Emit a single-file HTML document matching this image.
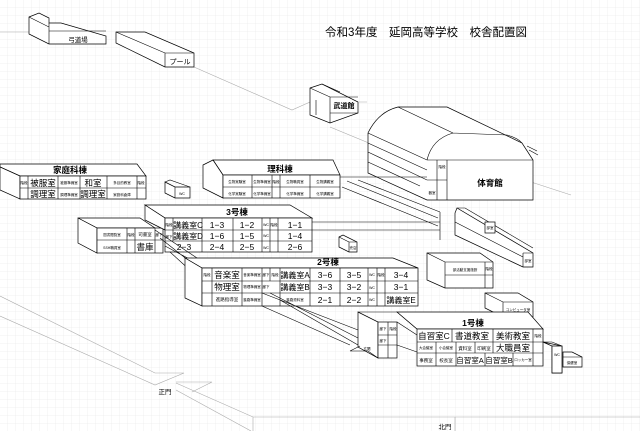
<!DOCTYPE html>
<html><head><meta charset="utf-8"><style>
html,body{margin:0;padding:0;background:#fff}
svg{display:block}
text{font-family:"Liberation Sans","Noto Sans CJK JP",sans-serif;fill:#000;text-anchor:middle}
.b{font-size:8.5px}
.m{font-size:5px}
.s{font-size:3.5px}
.t{font-size:8.5px;font-weight:bold}
.k{stroke:#000;stroke-width:0.7;fill:#fff}
.l{stroke:#000;stroke-width:0.6;fill:none}
.g{stroke:#aaa;stroke-width:0.6;fill:none}
</style></head><body>
<svg width="640" height="431" viewBox="0 0 640 431" xmlns="http://www.w3.org/2000/svg">
<defs><pattern id="gr" width="8" height="8" patternUnits="userSpaceOnUse"><path d="M8 0V8H0" fill="none" stroke="#e6e6e6" stroke-width="0.6"/></pattern></defs>
<rect width="640" height="431" fill="url(#gr)"/>

<text x="426" y="36" style="font-size:11.5px">令和3年度　延岡高等学校　校舎配置図</text>

<!-- roads -->
<path class="g" d="M0,32 H29 M194,67 L292,110 L310,102 M330,127 L427,167 M531,182 L571,195 M359,102 H367"/>
<path class="g" d="M0,296 L155,373 H184 L155,385 L0,316 M176,382 H212 L192,392 M176,383 L253,417 H640 M253,417 V431 M455,417 V431 M176,390 L251,431"/>
<text x="165" y="394" style="font-size:6.5px">正門</text>
<text x="445" y="429" style="font-size:6.5px">北門</text>

<!-- 弓道場 -->
<path class="k" d="M29,17 L39,13 L49,18 L49,23 L61,23 L106,36 L106,44 L49,44 L29,34 Z"/>
<path class="l" d="M29,17 L49,27 L49,44 M49,27 V31 M49,31 H106 M49,23 L49,31"/>
<text x="78" y="42" style="font-size:6.5px">弓道場</text>

<!-- プール -->
<path class="k" d="M116,32 L145,32 L194,53 L194,67 L165,67 L116,43 Z"/>
<path class="l" d="M116,32 L165,53 H194 M165,53 V67"/>
<text x="180" y="64" style="font-size:7px">プール</text>

<!-- 武道館 -->
<path class="k" d="M310,88 L322,84 L358,102 L358,113 L330,123 L310,115 Z"/>
<path class="l" d="M310,88 L330,97 L358,97 M322,84 L340,92 M330,97 V123 M330,113 H358 M316,100 V115"/>
<text x="344" y="108" style="font-size:7px;font-weight:bold">武道館</text>

<!-- 体育館 -->
<path class="k" d="M368,133 Q378,112 398,107 L447,107 L522,143 L533,160 L533,200 L427,200 L368,173 Z"/>
<path class="l" d="M368,133 L427,160 M398,107 L453,133 M427,160 Q432,139 453,133 L507,135 Q518,138 522,143 M368,143 L427,170 M368,152 L427,180 M368,162 L420,186 M427,160 H533 M447,160 V200 M437,160 V200 M427,180 H447"/>
<path class="l" d="M527,146 L537,151 M529,150 L538,155" />
<text x="442" y="168" class="s">階段</text>
<text x="432" y="194" class="s">器室</text>
<text x="490" y="186" style="font-size:8.5px;font-weight:bold">体育館</text>

<!-- 家庭科棟 -->
<path class="k" d="M0,164 L137,164 L146,176 L20,176 L0,167 Z"/>
<path class="k" d="M0,167 L20,176 L20,199 L0,190 Z"/>
<rect class="k" x="20" y="176" width="126" height="23"/>
<path class="l" d="M20,188 H146 M28,176 V199 M58,176 V199 M80,176 V199 M107,176 V199 M137,176 V199"/>
<text x="70" y="173" class="t">家庭科棟</text>
<text x="24" y="184" class="s">階段</text><text x="43" y="186" class="b">被服室</text><text x="69" y="184" class="s">被服準備室</text><text x="93" y="186" class="b">和室</text><text x="122" y="184" class="s">多目的教室</text><text x="141" y="184" class="s">階段</text>
<text x="43" y="197" class="b">調理室</text><text x="69" y="196" class="s">調理準備室</text><text x="93" y="197" class="b">調理室</text><text x="122" y="196" class="s">家庭科倉庫</text>

<!-- WC box -->
<path class="k" d="M165,182 L175,187 H190 V198 H175 L165,193 Z"/><path class="l" d="M165,182 L170,180 L190,187 M175,187 V198"/>
<text x="182" y="195" class="s">WC</text>

<!-- 理科棟 -->
<path class="k" d="M213,160 L333,160 L340,175 L223,175 Z"/>
<path class="k" d="M203,165 L213,160 L223,175 L223,198 L203,188 Z"/>
<rect class="k" x="223" y="175" width="117" height="23"/>
<path class="l" d="M223,187 H340 M252,175 V198 M272,175 V198 M280,175 V198 M310,175 V198"/>
<text x="280" y="172" class="t">理科棟</text>
<text x="237" y="183" class="s">生物実験室</text><text x="262" y="183" class="s">生物準備室</text><text x="276" y="183" class="s">階段</text><text x="295" y="183" class="s">生物職員室</text><text x="325" y="183" class="s">生物講義室</text>
<text x="237" y="195" class="s">化学実験室</text><text x="262" y="195" class="s">化学準備室</text><text x="295" y="195" class="s">化学準備室</text><text x="325" y="195" class="s">化学講義室</text>

<!-- connectors -->
<path class="l" d="M340,177 H427 M347,181 L438,218 M342,187 L438,226 M358,180 L440,212 M312,222 H440 M312,230 H440 M440,212 V240"/>

<!-- 部室 long box -->
<path class="k" d="M455,213 L457,208 L533,253 V267 L523,267 L455,235 Z"/>
<path class="l" d="M455,222 L523,257 M523,253 V267 M523,253 H533 M457,208 L465,208 L533,248"/>
<rect class="k" x="485" y="222" width="10" height="11"/>
<text x="490" y="229" class="s">部室</text><text x="528" y="262" class="s">部室</text>

<!-- 売店 -->
<path class="k" d="M339,237 L343,235 L357,242 V252 H349 L339,247 Z"/><path class="l" d="M349,242 H357 M349,242 V252 M339,237 L349,242"/>
<text x="353" y="249" class="s">売店</text>

<!-- 部活動支援施設 -->
<path class="k" d="M427,253 L480,253 L493,262 V288 H445 L427,280 Z"/>
<path class="l" d="M427,253 L445,262 H493 M445,262 V288 M445,275 H493 M485,262 V288"/>
<text x="465" y="271" class="s">部活動支援施設</text><text x="489" y="270" class="s">階段</text>

<!-- コンピュータ室 -->
<path class="k" d="M485,293 L518,293 L533,302 V317 H503 L485,308 Z"/>
<path class="l" d="M485,293 L503,302 H533 M503,302 V317"/>
<text x="518" y="311" class="s">コンピュータ室</text>

<!-- 図書館 building -->
<path class="k" d="M78,218 L140,218 L155,228 L97,228 Z"/>
<path class="k" d="M78,218 L97,228 L97,253 L78,243 Z"/>
<rect class="k" x="97" y="228" width="66" height="25"/>
<path class="l" d="M97,240 H163 M127,228 V253 M135,228 V253 M155,228 V253"/>
<text x="112" y="236" class="s">図書閲覧室</text><text x="131" y="236" class="s">階段</text><text x="145" y="236" style="font-size:4.5px">司書室</text><text x="159" y="236" class="s">廊下</text>
<text x="112" y="249" class="s">SSH職員室</text><text x="145" y="250" class="b">書庫</text>

<!-- 3号棟 -->
<path class="k" d="M145,205 L290,205 L312,218 L165,218 Z"/>
<path class="k" d="M145,205 L165,218 L165,230 L145,220 Z"/>
<rect class="k" x="165" y="218" width="147" height="34"/>
<path class="l" d="M165,230 H312 M165,241 H312 M173,218 V241 M202,218 V252 M233,218 V252 M262,218 V252 M270,218 V252 M278,218 V252"/>
<text x="237" y="215" class="t">3号棟</text>
<text x="169" y="226" class="s">階段</text><text x="188" y="228" class="b" style="font-size:8px">講義室C</text><text x="217" y="228" class="b">1−3</text><text x="247" y="228" class="b">1−2</text><text x="266" y="226" class="s">WC</text><text x="274" y="226" class="s">階段</text><text x="295" y="228" class="b">1−1</text>
<text x="169" y="238" class="s">廊下</text><text x="188" y="239" class="b" style="font-size:8px">講義室D</text><text x="217" y="239" class="b">1−6</text><text x="247" y="239" class="b">1−5</text><text x="266" y="237" class="s">WC</text><text x="295" y="239" class="b">1−4</text>
<text x="184" y="250" class="b">2−3</text><text x="217" y="250" class="b">2−4</text><text x="247" y="250" class="b">2−5</text><text x="266" y="249" class="s">WC</text><text x="295" y="250" class="b">2−6</text>

<!-- diagonals 3号棟 -> 2号棟 -->
<path class="l" d="M155,230 L203,262 M160,238 L203,272 M165,246 L210,270 M170,252 L203,282"/>

<!-- 2号棟 -->
<path class="k" d="M185,258 L393,258 L418,268 L202,268 Z"/>
<path class="k" d="M185,258 L202,268 L202,306 L185,298 Z"/>
<rect class="k" x="202" y="268" width="216" height="38"/>
<path class="l" d="M202,281 H418 M202,293 H418 M212,268 V306 M242,268 V306 M262,268 V306 M270,268 V281 M280,268 V306 M310,268 V306 M340,268 V306 M368,268 V306 M377,268 V306 M385,268 V306"/>
<text x="328" y="265" class="t">2号棟</text>
<text x="207" y="276" class="s">階段</text><text x="227" y="278" class="b">音楽室</text><text x="252" y="276" class="s">音楽準備室</text><text x="266" y="276" class="s">廊下</text><text x="275" y="276" class="s">階段</text><text x="295" y="278" class="b" style="font-size:8px">講義室A</text><text x="325" y="278" class="b">3−6</text><text x="354" y="278" class="b">3−5</text><text x="372" y="276" class="s">WC</text><text x="381" y="276" class="s">階段</text><text x="401" y="278" class="b">3−4</text>
<text x="227" y="290" class="b">物理室</text><text x="252" y="288" class="s">物理準備室</text><text x="266" y="288" class="s">廊下</text><text x="295" y="290" class="b" style="font-size:8px">講義室B</text><text x="325" y="290" class="b">3−3</text><text x="354" y="290" class="b">3−2</text><text x="372" y="289" class="s">WC</text><text x="401" y="290" class="b">3−1</text>
<text x="227" y="301" style="font-size:4.5px">進路指導室</text><text x="252" y="301" class="s">進路準備室</text><text x="295" y="301" class="s">進路資料室</text><text x="325" y="303" class="b">2−1</text><text x="354" y="303" class="b">2−2</text><text x="372" y="301" class="s">WC</text><text x="401" y="303" class="b" style="font-size:8px">講義室E</text>

<!-- diagonals 2号棟 -> 1号棟 -->
<path class="l" d="M262,293 L358,330 M270,293 L358,338 M280,300 L358,345 M262,306 L350,345"/>

<!-- 1号棟 wing -->
<path class="k" d="M358,312 L378,322 L378,358 L358,347 Z"/>
<rect class="k" x="378" y="322" width="19" height="36"/>
<path class="l" d="M358,312 L397,312 L417,329 M378,335 H397 M378,345 H397 M388,322 V358 M397,322 L417,335 M397,345 L417,352 M350,351 L360,346 M350,351 H368 L378,358"/>
<text x="383" y="330" class="s">廊下</text><text x="393" y="330" class="s">階段</text><text x="383" y="342" class="s">廊下</text><text x="367" y="350" class="s">玄関</text>

<!-- 1号棟 -->
<path class="k" d="M397,312 L528,312 L543,329 L417,329 Z"/>
<rect class="k" x="417" y="329" width="126" height="37"/>
<path class="l" d="M417,342 H543 M417,353 H543 M452,329 V342 M493,329 V353 M533,329 V366 M436,342 V366 M456,342 V366 M475,342 V353 M485,353 V366 M513,353 V366"/>
<text x="473" y="326" class="t">1号棟</text>
<text x="434" y="339" class="b">自習室C</text><text x="472" y="339" class="b">書道教室</text><text x="513" y="339" class="b">美術教室</text><text x="538" y="337" class="s">階段</text>
<text x="426" y="349" class="s">大会議室</text><text x="446" y="349" class="s">小会議室</text><text x="465" y="350" style="font-size:4.5px">資料室</text><text x="484" y="350" style="font-size:4.5px">印刷室</text><text x="513" y="351" class="b">大職員室</text>
<text x="426" y="362" style="font-size:4.5px">事務室</text><text x="446" y="362" style="font-size:4.5px">校長室</text><text x="470" y="363" class="b" style="font-size:7.5px">自習室A</text><text x="499" y="363" class="b" style="font-size:7.5px">自習室B</text><text x="523" y="361" class="s">ロッカー室</text>

<!-- WC / 保健室 -->
<path class="k" d="M543,342 L552,346 V373 H562 V346 L543,342 Z"/>
<path class="k" d="M552,346 L562,346 L562,373 L552,373 Z"/>
<path class="l" d="M543,342 L552,342 L562,346"/>
<text x="557" y="356" class="s">WC</text>
<path class="k" d="M563,352 L572,352 L582,357 V367 H563 Z"/><path class="l" d="M563,357 H582"/>
<text x="572" y="364" class="s">保健室</text>
</svg>
</body></html>
